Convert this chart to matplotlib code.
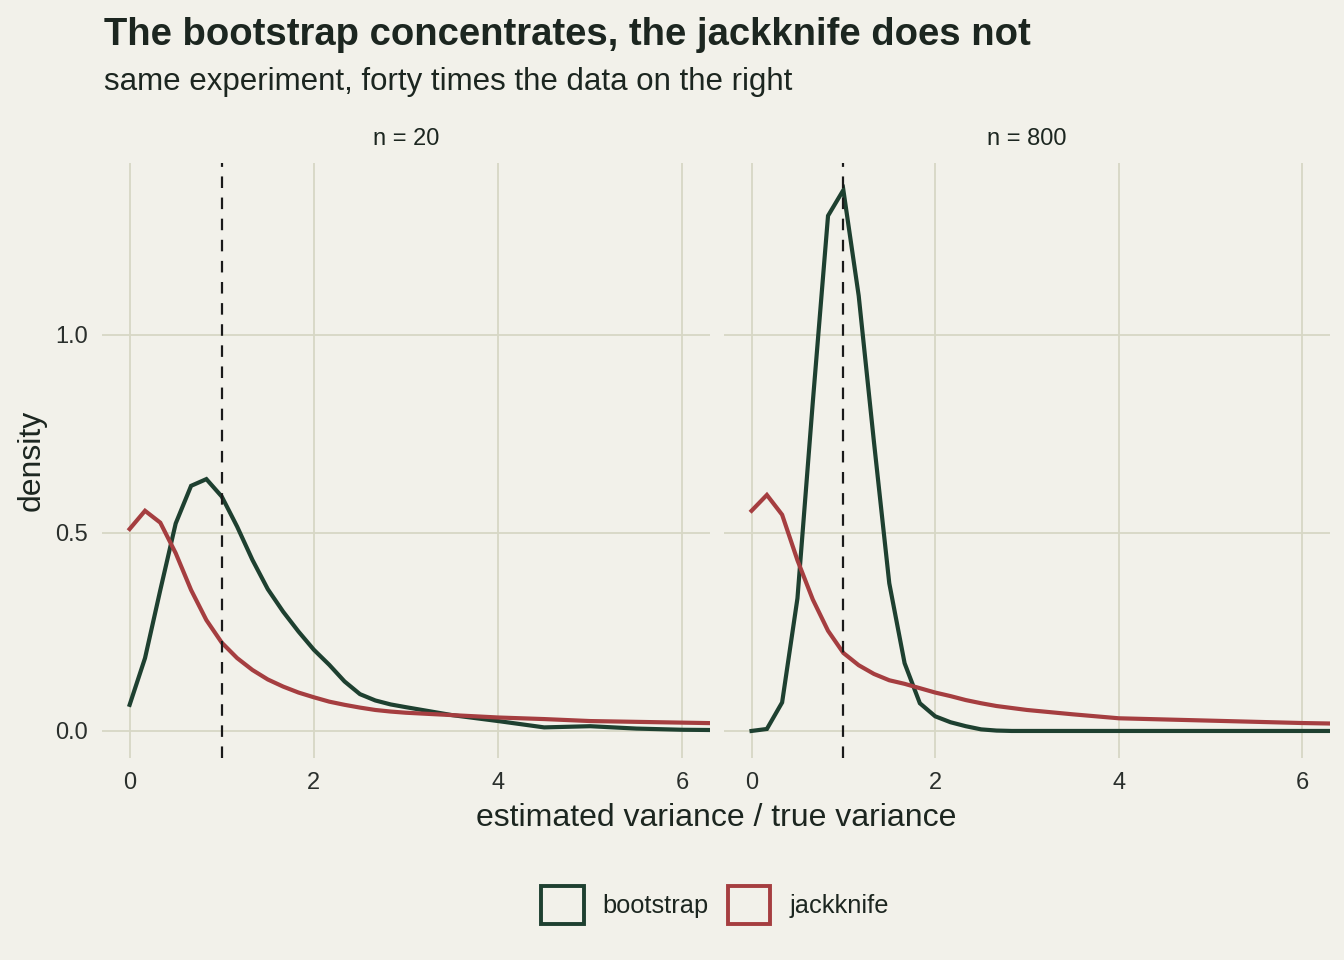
import numpy as np
import matplotlib
matplotlib.use("Agg")
import matplotlib.pyplot as plt
from matplotlib.patches import Patch

# ---------------- data ----------------
x_vals = [0, 0.167, 0.333, 0.5, 0.667, 0.833, 1.0, 1.167, 1.333, 1.5, 1.667, 1.833,
          2.0, 2.167, 2.333, 2.5, 2.667, 2.833, 3.0, 3.5, 4.0, 4.5, 5.0, 5.5, 6.0, 6.5]

boot_n20 = [0.066, 0.184, 0.356, 0.524, 0.619, 0.636, 0.592, 0.516, 0.432, 0.358, 0.301, 0.251,
            0.205, 0.167, 0.125, 0.093, 0.077, 0.067, 0.060, 0.040, 0.025, 0.009, 0.012, 0.006, 0.003, 0.002]
jack_n20 = [0.510, 0.556, 0.526, 0.449, 0.356, 0.280, 0.223, 0.184, 0.154, 0.130, 0.112, 0.097,
            0.085, 0.074, 0.066, 0.059, 0.053, 0.049, 0.046, 0.040, 0.034, 0.030, 0.025, 0.023, 0.021, 0.019]
boot_n800 = [0.000, 0.005, 0.072, 0.335, 0.830, 1.301, 1.366, 1.099, 0.730, 0.373, 0.171, 0.070,
             0.037, 0.022, 0.012, 0.004, 0.001, 0.000, 0.000, 0.000, 0.000, 0.000, 0.000, 0.000, 0.000, 0.000]
jack_n800 = [0.556, 0.596, 0.546, 0.431, 0.332, 0.253, 0.197, 0.166, 0.144, 0.128, 0.119, 0.108,
             0.097, 0.088, 0.078, 0.070, 0.063, 0.058, 0.053, 0.042, 0.032, 0.029, 0.026, 0.023, 0.020, 0.018]

panels = ["n = 20", "n = 800"]
series_names = ["bootstrap", "jackknife"]
panel_data = {"n = 20": (boot_n20, jack_n20), "n = 800": (boot_n800, jack_n800)}
x_ticks = [0, 2, 4, 6]
y_ticks = [0.0, 0.5, 1.0]
y_tick_labels = ["0.0", "0.5", "1.0"]
ref_line = 1.0

title = "The bootstrap concentrates, the jackknife does not"
subtitle = "same experiment, forty times the data on the right"
xlabel = "estimated variance / true variance"
ylabel = "density"

# ---------------- style ----------------
BG = "#f2f1ea"
GRID = "#d7d7c5"
TXT = "#1c2620"
TICK = "#2a2f2c"
COLORS = ["#1e4030", "#a53e40"]
plt.rcParams["font.family"] = ["Liberation Sans", "DejaVu Sans"]

W, H = 1344, 960
fig = plt.figure(figsize=(W / 100, H / 100), dpi=100, facecolor=BG)

ymax = max(max(boot_n20), max(jack_n20), max(boot_n800), max(jack_n800))
ylim = (-0.05 * ymax, 1.05 * ymax)
xlim = (-0.3, 6.3)

pan_bottom, pan_top = 758, 163
axes_px = [(102, 710), (724, 1330)]
axes = []
for i, (l, r) in enumerate(axes_px):
    ax = fig.add_axes([l / W, 1 - pan_bottom / H, (r - l) / W, (pan_bottom - pan_top) / H])
    ax.set_facecolor(BG)
    for s in ax.spines.values():
        s.set_visible(False)
    ax.set_xlim(*xlim)
    ax.set_ylim(*ylim)
    ax.set_xticks(x_ticks)
    ax.set_yticks(y_ticks)
    ax.grid(True, color=GRID, linewidth=1.3)
    ax.set_axisbelow(True)
    ax.tick_params(length=0, labelsize=17, colors=TICK, pad=10)
    ax.set_xticklabels([str(t) for t in x_ticks])
    if i == 0:
        ax.set_yticklabels(y_tick_labels)
    else:
        ax.set_yticklabels([])
    name = panels[i]
    for vals, c, lab in zip(panel_data[name], COLORS, series_names):
        ax.plot(x_vals, vals, color=c, lw=3.0, solid_joinstyle="miter", label=lab, zorder=3)
    ax.axvline(ref_line, color="#1a1a1a", lw=1.6, ls=(0, (5.2, 4.3)), zorder=4)
    ax.set_title(name, fontsize=17, color=TXT, pad=13)
    axes.append(ax)

fig.text(104 / W, 1 - 45 / H, title, fontsize=27.5, fontweight="bold", color=TXT, ha="left", va="baseline")
fig.text(104 / W, 1 - 90 / H, subtitle, fontsize=22.5, color=TXT, ha="left", va="baseline")
fig.text(716 / W, 1 - 818 / H, xlabel, fontsize=23, color=TXT, ha="center", va="center")
fig.text(32 / W, 1 - 460 / H, ylabel, fontsize=23, color=TXT, ha="center", va="center", rotation=90)

handles = [Patch(facecolor="none", edgecolor=c, linewidth=2.8, label=n) for c, n in zip(COLORS, series_names)]
fig.legend(handles=handles, loc="center", bbox_to_anchor=(715 / W, 1 - 905 / H), ncol=2,
           frameon=False, fontsize=18.3, handlelength=1.66, handleheight=1.96,
           handletextpad=0.75, columnspacing=0.75, labelcolor=TXT)

fig.savefig("out.png", dpi=100, facecolor=BG)
